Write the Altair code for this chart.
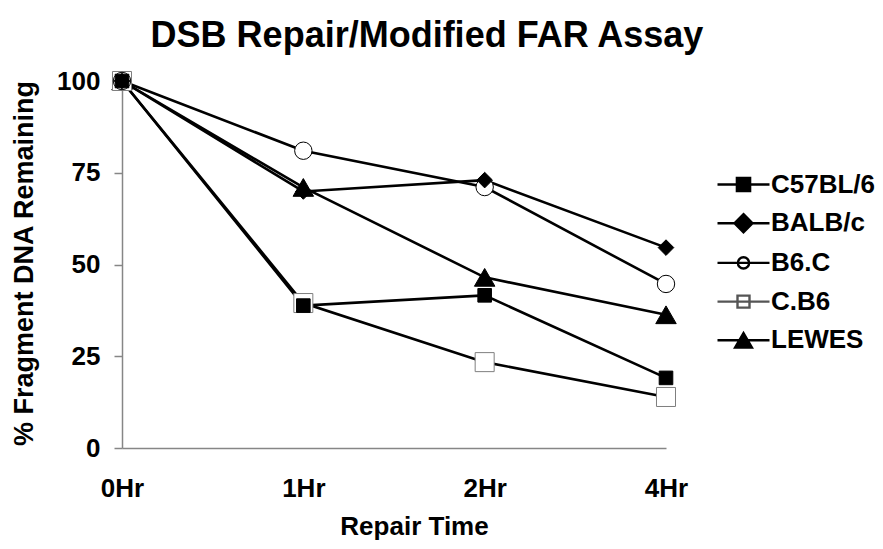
import altair as alt
import pandas as pd

times = ["0Hr", "1Hr", "2Hr", "4Hr"]
series = ["C57BL/6", "BALB/c", "B6.C", "C.B6", "LEWES"]
c57bl6 = [100, 38.8, 41.6, 19.1]
balbc = [100, 69.9, 73.0, 54.6]
b6c = [100, 81.0, 71.1, 44.7]
cb6 = [100, 39.5, 23.4, 13.9]
lewes = [100, 71.0, 46.5, 36.3]
values = [c57bl6, balbc, b6c, cb6, lewes]

rows = []
for s, vals in zip(series, values):
    for t, v in zip(times, vals):
        rows.append({"series": s, "time": t, "value": v})
df = pd.DataFrame(rows)
# markers: first-listed series drawn last (on top)
df_pts = pd.concat([df[df.series == s] for s in reversed(series)], ignore_index=True)

FONT = "Liberation Sans"
BLACK = "#000000"
GRAY = "#868686"

# plot marker styles
pt_shapes = ["square", "diamond", "circle", "square", "triangle-up"]
pt_fills = [BLACK, BLACK, "#ffffff", "#ffffff", BLACK]
pt_strokes = [BLACK, BLACK, BLACK, "#7f7f7f", BLACK]
pt_sizes = [185, 420, 165, 175, 290]
pt_sw = [1, 1, 1.6, 1.2, 1]
line_sw = [2.6, 2.6, 2.6, 1.1, 2.6]

# legend symbols: line through marker (unit = sqrt(size)/2)
lg_shapes = [
    "M-1.3,0H1.3M-0.33,-0.33H0.33V0.33H-0.33Z",
    "M-1.3,0H1.3M0,-0.45L0.45,0L0,0.45L-0.45,0Z",
    "M-1.3,0H1.3M0.28,0A0.28,0.28,0,1,1,-0.28,0A0.28,0.28,0,1,1,0.28,0Z",
    "M-1.3,0H1.3M-0.3,-0.3H0.3V0.3H-0.3Z",
    "M-1.3,0H1.3M0,-0.36L0.42,0.36L-0.42,0.36Z",
]
lg_fills = [BLACK, BLACK, "#ffffff", "#ffffff", BLACK]
lg_strokes = [BLACK, BLACK, BLACK, "#555555", BLACK]
lg_sw = [2.4, 2.4, 2.0, 1.1, 2.4]

x_enc = alt.X(
    "time:O",
    sort=times,
    scale=alt.Scale(type="point", padding=0, domain=times),
    axis=alt.Axis(
        ticks=False, tickSize=0, grid=False, labelAngle=0,
        domainColor=GRAY, domainWidth=1.5,
        labelFont=FONT, labelFontSize=26, labelFontWeight="bold", labelColor=BLACK,
        labelPadding=27,
        title="Repair Time", titleFont=FONT, titleFontSize=26, titleFontWeight="bold",
        titleColor=BLACK, titleX=292, titleY=86, titleBaseline="alphabetic", titleAlign="center",
    ),
)
y_enc = alt.Y(
    "value:Q",
    scale=alt.Scale(domain=[0, 100], nice=False, zero=True),
    axis=alt.Axis(
        values=[0, 25, 50, 75, 100], grid=False,
        domainColor=GRAY, domainWidth=1.5, tickColor=GRAY, tickSize=8, tickWidth=1.5,
        labelFont=FONT, labelFontSize=26, labelFontWeight="bold", labelColor=BLACK,
        labelPadding=14,
        title="% Fragment DNA Remaining", titleFont=FONT, titleFontSize=27,
        titleFontWeight="bold", titleColor=BLACK, titleAngle=270, titleX=-90, titleY=182,
        titleBaseline="alphabetic", titleAlign="center",
    ),
)

lines = alt.Chart(df).mark_line(color=BLACK).encode(
    x=x_enc,
    y=y_enc,
    detail="series:N",
    strokeWidth=alt.StrokeWidth("series:N", scale=alt.Scale(domain=series, range=line_sw), legend=None),
)

points = alt.Chart(df_pts).mark_point(opacity=1, filled=True).encode(
    x=x_enc,
    y=y_enc,
    shape=alt.Shape("series:N", scale=alt.Scale(domain=series, range=pt_shapes), legend=None),
    fill=alt.Fill("series:N", scale=alt.Scale(domain=series, range=pt_fills), legend=None),
    stroke=alt.Stroke("series:N", scale=alt.Scale(domain=series, range=pt_strokes), legend=None),
    size=alt.Size("series:N", scale=alt.Scale(domain=series, range=pt_sizes), legend=None),
    strokeWidth=alt.StrokeWidth("series:N", scale=alt.Scale(domain=series, range=pt_sw), legend=None),
)

leg = alt.Legend(
    title=None, orient="none", legendX=600, legendY=82, direction="vertical",
    symbolSize=1600, rowPadding=3.7, padding=0, labelOffset=6, symbolOpacity=1,
    labelFont=FONT, labelFontSize=26, labelFontWeight="bold", labelColor=BLACK,
    labelBaseline="middle", labelLimit=0,
)

legend_layer = alt.Chart(df).mark_point(opacity=1, filled=True, size=1600).encode(
    shape=alt.Shape("series:N", scale=alt.Scale(domain=series, range=lg_shapes), legend=leg, sort=series),
    fill=alt.Fill("series:N", scale=alt.Scale(domain=series, range=lg_fills), legend=leg, sort=series),
    stroke=alt.Stroke("series:N", scale=alt.Scale(domain=series, range=lg_strokes), legend=leg, sort=series),
    strokeWidth=alt.StrokeWidth("series:N", scale=alt.Scale(domain=series, range=lg_sw), legend=leg, sort=series),
).transform_filter("false")

chart = (
    alt.layer(lines, points, legend_layer)
    .resolve_scale(shape="independent", fill="independent", stroke="independent",
                   strokeWidth="independent", size="independent")
    .properties(
        width=544,
        height=367,
        autosize=alt.AutoSizeParams(type="none"),
        padding={"left": 114, "top": 73, "right": 209, "bottom": 93},
        title=alt.TitleParams(
            "DSB Repair/Modified FAR Assay", font=FONT, fontSize=36, fontWeight="bold",
            color=BLACK, anchor="middle", frame="group", dx=33, offset=13,
        ),
    )
    .configure_view(strokeWidth=0)
)

chart.save("out.html", embed_options={"renderer": "svg", "actions": False})
